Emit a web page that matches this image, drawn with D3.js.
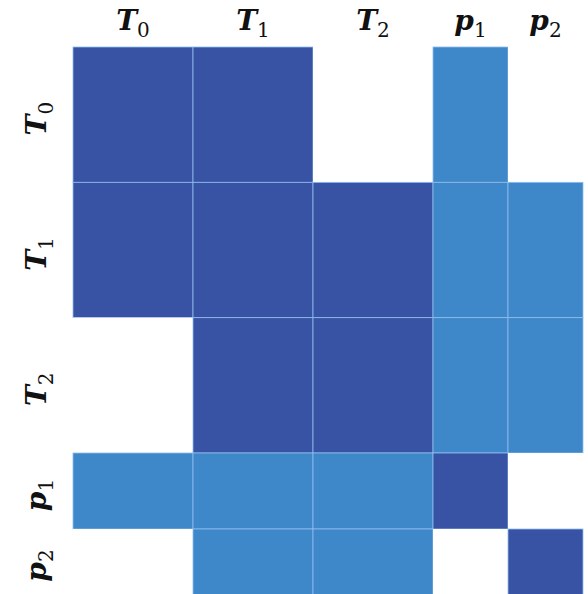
<!DOCTYPE html>
<html>
<head>
<meta charset="utf-8">
<script src="https://cdn.jsdelivr.net/npm/d3@7"></script>
<style>
  html, body { margin: 0; padding: 0; background: #ffffff; }
  svg { display: block; }
  .lab { font-family: "DejaVu Serif", serif; fill: #111; }
</style>
</head>
<body>
<svg id="chart" width="588" height="594"></svg>
<script>
// Block structure: three temperature blocks and two pressure blocks
const names = ["T", "T", "T", "p", "p"];
const subs = ["0", "1", "2", "1", "2"];
const blockSize = [3, 3, 3, 2, 2];

// Coupling level of each block pair: 0 = none, 1 = weak, 2 = strong
const coupling = [
  [2, 2, 0, 1, 0],
  [2, 2, 2, 1, 1],
  [0, 2, 2, 1, 1],
  [1, 1, 1, 2, 0],
  [0, 1, 1, 0, 2]
];

const levelColors = ["#ffffff", "#3e87c8", "#3953a4"];

const svg = d3.select("#chart");

// cumulative offsets of the blocks
const offsets = [0];
blockSize.forEach((s, i) => offsets.push(offsets[i] + s));
const total = offsets[offsets.length - 1];

const x = d3.scaleLinear().domain([0, 9, total]).range([73, 433, 583]);
const y = d3.scaleLinear().domain([0, 9, total]).range([47, 453, 605]);
const color = d3.scaleOrdinal().domain([0, 1, 2]).range(levelColors);

const cells = [];
coupling.forEach((row, i) => row.forEach((v, j) => cells.push({ i, j, v })));

svg.append("g").selectAll("rect").data(cells).join("rect")
  .attr("x", d => x(offsets[d.j]))
  .attr("y", d => y(offsets[d.i]))
  .attr("width", d => x(offsets[d.j + 1]) - x(offsets[d.j]))
  .attr("height", d => y(offsets[d.i + 1]) - y(offsets[d.i]))
  .attr("fill", d => color(d.v))
  .attr("stroke", d => d.v === 0 ? "none" : "#8fbdf0")
  .attr("stroke-width", 0.8);

function label(sel, k) {
  sel.append("tspan")
    .attr("font-weight", "bold")
    .attr("font-style", "italic")
    .attr("font-size", 28)
    .text(names[k]);
  sel.append("tspan")
    .attr("font-size", 20)
    .attr("dy", 7)
    .text(subs[k]);
}

// column labels
blockSize.forEach((s, k) => {
  const cx = (x(offsets[k]) + x(offsets[k + 1])) / 2;
  const t = svg.append("text").attr("class", "lab")
    .attr("x", cx).attr("y", 30)
    .attr("text-anchor", "middle");
  label(t, k);
});

// row labels, rotated
blockSize.forEach((s, k) => {
  const cy = (y(offsets[k]) + Math.min(y(offsets[k + 1]), 594)) / 2;
  const t = svg.append("text").attr("class", "lab")
    .attr("transform", `translate(46,${cy + 4}) rotate(-90)`)
    .attr("text-anchor", "middle");
  label(t, k);
});
</script>
</body>
</html>
